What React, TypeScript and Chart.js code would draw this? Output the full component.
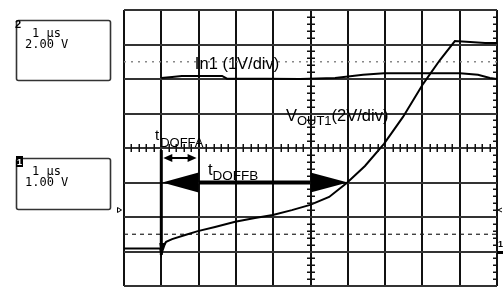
import React, { useEffect, useRef } from "react";
import { Chart, registerables } from "chart.js";

Chart.register(...registerables);

// ---- Scope geometry (divisions) ----
const timeDivs = 10; // horizontal divisions, 1 µs/div
const voltDivs = 8; // vertical divisions
const minorPerDiv = 5;

// ---- VOUT1 trace (time in div, level in div; 2V/div) ----
const voutTime = [0, 0.97, 1.0, 1.05, 1.13, 1.29, 1.64, 1.98, 2.44, 2.98, 3.51, 3.99, 4.5, 4.99, 5.5, 5.98, 6.46, 6.97, 7.48, 8.02, 8.47, 8.87, 9.28, 9.68, 10];
const voutLevel = [1.09, 1.09, 0.93, 1.16, 1.28, 1.36, 1.48, 1.59, 1.71, 1.86, 1.97, 2.06, 2.2, 2.35, 2.58, 2.99, 3.48, 4.12, 4.9, 5.86, 6.55, 7.1, 7.07, 7.04, 7.04];

// ---- In1 trace (1V/div) ----
const in1Time = [1.0, 1.29, 1.55, 2.63, 2.76, 3.83, 4.72, 5.66, 6.41, 6.97, 8.47, 9.01, 9.49, 9.81, 10];
const in1Level = [6.03, 6.06, 6.09, 6.09, 6.01, 6.01, 6.0, 6.03, 6.12, 6.17, 6.17, 6.17, 6.12, 6.03, 6.0];

// ---- Reference level markers ----
const refLevels = [6.5, 1.5];

// ---- Timing markers (div) ----
const tTrigger = 1;
const tDoffaEnd = 2;
const tDoffbEnd = 6;

// ---- Texts ----
const in1Label = "In1 (1V/div)";
const voutMain = "V";
const voutSub = "OUT1";
const voutTail = "(2V/div)";
const tLabel = "t";
const doffaSub = "DOFFA";
const doffbSub = "DOFFB";
const ch2Box = ["1 µs", "2.00 V"];
const ch1Box = ["1 µs", "1.00 V"];

const SANS = '"Liberation Sans", Arial, Helvetica, sans-serif';
const MONO = '"DejaVu Sans Mono", "Liberation Mono", monospace';

const toPts = (xs: number[], ys: number[]) => xs.map((x, i) => ({ x, y: ys[i] }));

const overlay = {
  id: "scopeOverlay",
  afterDatasetsDraw(chart: any) {
    const { ctx, scales } = chart;
    const xs = scales.x;
    const ys = scales.y;
    const X = (v: number) => xs.getPixelForValue(v);
    const Y = (v: number) => ys.getPixelForValue(v);
    ctx.save();

    // minor ticks on the centre axes and the right border
    ctx.strokeStyle = "#111";
    ctx.lineWidth = 1.5;
    const cy = Math.round(Y(voltDivs / 2));
    const cx = Math.round(X(timeDivs / 2));
    const right = Math.round(X(timeDivs));
    ctx.beginPath();
    for (let i = 0; i <= timeDivs * minorPerDiv; i++) {
      if (i % minorPerDiv === 0) continue;
      const px = Math.round(X(i / minorPerDiv)) + 0.25;
      ctx.moveTo(px, cy - 4);
      ctx.lineTo(px, cy + 4);
    }
    for (let j = 0; j <= voltDivs * minorPerDiv; j++) {
      if (j % minorPerDiv === 0) continue;
      const py = Math.round(Y(j / minorPerDiv)) + 0.25;
      ctx.moveTo(cx - 4, py);
      ctx.lineTo(cx + 4, py);
      ctx.moveTo(right - 4, py);
      ctx.lineTo(right, py);
    }
    ctx.stroke();

    // trigger marker (thick vertical)
    ctx.strokeStyle = "#000";
    ctx.lineWidth = 3;
    ctx.beginPath();
    ctx.moveTo(X(tTrigger), Y(3.94));
    ctx.lineTo(X(tTrigger), Y(0.9));
    ctx.stroke();
    ctx.fillStyle = "#000";
    ctx.beginPath();
    ctx.moveTo(X(tTrigger) - 2, Y(1.25));
    ctx.lineTo(X(tTrigger) + 5, Y(1.25));
    ctx.lineTo(X(tTrigger), Y(0.85));
    ctx.closePath();
    ctx.fill();

    // tDOFFA double arrow
    const ya = Math.round(Y(3.71));
    const xa0 = X(tTrigger) + 2;
    const xa1 = X(tDoffaEnd) - 2;
    ctx.lineWidth = 2;
    ctx.beginPath();
    ctx.moveTo(xa0 + 6, ya);
    ctx.lineTo(xa1 - 6, ya);
    ctx.stroke();
    ctx.beginPath();
    ctx.moveTo(xa0, ya);
    ctx.lineTo(xa0 + 9, ya - 4);
    ctx.lineTo(xa0 + 9, ya + 4);
    ctx.closePath();
    ctx.moveTo(xa1, ya);
    ctx.lineTo(xa1 - 9, ya - 4);
    ctx.lineTo(xa1 - 9, ya + 4);
    ctx.closePath();
    ctx.fill();

    // tDOFFB arrow
    const yb = Y(3.0);
    ctx.lineWidth = 4;
    ctx.beginPath();
    ctx.moveTo(X(tTrigger + 1), yb);
    ctx.lineTo(X(tDoffbEnd - 1), yb);
    ctx.stroke();
    ctx.beginPath();
    ctx.moveTo(X(tTrigger) + 1, yb);
    ctx.lineTo(X(tTrigger + 1), yb - 10);
    ctx.lineTo(X(tTrigger + 1), yb + 10);
    ctx.closePath();
    ctx.moveTo(X(tDoffbEnd), yb);
    ctx.lineTo(X(tDoffbEnd - 1), yb - 10);
    ctx.lineTo(X(tDoffbEnd - 1), yb + 10);
    ctx.closePath();
    ctx.fill();

    // labels
    ctx.fillStyle = "#000";
    ctx.textBaseline = "alphabetic";
    ctx.textAlign = "left";
    ctx.font = `16.5px ${SANS}`;
    ctx.fillText(in1Label, X(1.9), Y(6.29));

    let vx = X(4.34);
    const vy = Y(4.78);
    ctx.font = `16.5px ${SANS}`;
    ctx.fillText(voutMain, vx, vy);
    vx += ctx.measureText(voutMain).width;
    ctx.font = `13px ${SANS}`;
    ctx.fillText(voutSub, vx, vy + 4);
    vx += ctx.measureText(voutSub).width;
    ctx.font = `16.5px ${SANS}`;
    ctx.fillText(voutTail, vx, vy);

    let ax = X(0.83);
    const ay = Y(4.23);
    ctx.font = `15px ${SANS}`;
    ctx.fillText(tLabel, ax, ay);
    ax += ctx.measureText(tLabel).width + 1;
    ctx.font = `13px ${SANS}`;
    ctx.fillText(doffaSub, ax, ay + 7);

    let bx = X(2.25);
    const by = Y(3.22);
    ctx.font = `16.5px ${SANS}`;
    ctx.fillText(tLabel, bx, by);
    bx += ctx.measureText(tLabel).width;
    ctx.font = `13.5px ${SANS}`;
    ctx.fillText(doffbSub, bx, by + 5);

    ctx.restore();
  },
  afterDraw(chart: any) {
    const { ctx, chartArea, scales } = chart;
    const ys = scales.y;
    ctx.save();
    const drawBox = (top: number, h: number, lines: string[], marker: string, inverse: boolean) => {
      ctx.strokeStyle = "#333";
      ctx.lineWidth = 1.6;
      ctx.beginPath();
      ctx.roundRect(16.5, top + 0.5, 94, h, 2);
      ctx.stroke();
      ctx.font = `12px ${MONO}`;
      ctx.fillStyle = "#000";
      ctx.fillText(lines[0], 32, top + 17);
      ctx.fillText(lines[1], 25, top + 28);
      if (inverse) {
        ctx.fillStyle = "#000";
        ctx.fillRect(16, top - 2, 7, 11);
        ctx.fillStyle = "#fff";
        ctx.font = `bold 9px ${SANS}`;
        ctx.fillText(marker, 17, top + 7);
      } else {
        ctx.fillStyle = "#000";
        ctx.font = `bold 11px ${SANS}`;
        ctx.fillText(marker, 15, top + 8);
      }
    };
    ctx.textBaseline = "alphabetic";
    drawBox(20, 60, ch2Box, "2", false);
    drawBox(158, 51, ch1Box, "1", true);

    // ground / channel markers at the graticule edges
    const gy = Math.round(ys.getPixelForValue(2.2));
    ctx.strokeStyle = "#000";
    ctx.lineWidth = 1;
    ctx.beginPath();
    ctx.moveTo(117.5, gy - 2.5);
    ctx.lineTo(121.5, gy);
    ctx.lineTo(117.5, gy + 2.5);
    ctx.closePath();
    ctx.stroke();
    const r = chartArea.right;
    ctx.beginPath();
    ctx.moveTo(r + 5, gy - 2);
    ctx.lineTo(r + 1, gy);
    ctx.lineTo(r + 5, gy + 2);
    ctx.stroke();
    ctx.fillStyle = "#000";
    ctx.font = `bold 9px ${SANS}`;
    ctx.fillText("1", r + 1, ys.getPixelForValue(1.14));
    ctx.fillRect(r, Math.round(ys.getPixelForValue(1.02)), 6, 3);
    ctx.restore();
  },
};

export default function App() {
  const ref = useRef<HTMLCanvasElement | null>(null);

  useEffect(() => {
    if (!ref.current) return;
    const chart = new Chart(ref.current, {
      type: "scatter",
      data: {
        datasets: [
          {
            label: "VOUT1",
            data: toPts(voutTime, voutLevel),
            showLine: true,
            borderColor: "#000",
            borderWidth: 2,
            pointRadius: 0,
            tension: 0,
          },
          {
            label: "In1",
            data: toPts(in1Time, in1Level),
            showLine: true,
            borderColor: "#000",
            borderWidth: 2,
            pointRadius: 0,
            tension: 0,
          },
          {
            label: "ref2",
            data: [
              { x: 0, y: refLevels[0] },
              { x: timeDivs, y: refLevels[0] },
            ],
            showLine: true,
            borderColor: "#888",
            borderWidth: 1.5,
            borderDash: [2, 5],
            pointRadius: 0,
          },
          {
            label: "ref1",
            data: [
              { x: 0, y: refLevels[1] },
              { x: timeDivs, y: refLevels[1] },
            ],
            showLine: true,
            borderColor: "#222",
            borderWidth: 1.2,
            borderDash: [4, 4],
            pointRadius: 0,
          },
        ],
      },
      options: {
        responsive: false,
        animation: false,
        events: [],
        layout: { padding: { left: 124, top: 10, right: 6, bottom: 2 } },
        plugins: { legend: { display: false }, tooltip: { enabled: false } },
        scales: {
          x: {
            type: "linear",
            min: 0,
            max: timeDivs,
            ticks: { display: false, stepSize: 1 },
            grid: { color: "#111", lineWidth: 2, drawTicks: false },
            border: { display: false },
            afterFit: (s: any) => {
              s.height = 0;
            },
          },
          y: {
            type: "linear",
            min: 0,
            max: voltDivs,
            ticks: { display: false, stepSize: 1 },
            grid: { color: "#333", lineWidth: 2, drawTicks: false },
            border: { display: false },
            afterFit: (s: any) => {
              s.width = 0;
            },
          },
        },
      },
      plugins: [overlay],
    });
    return () => chart.destroy();
  }, []);

  return (
    <div style={{ position: "absolute", left: 0, top: 0, width: 503, height: 288, background: "#fff" }}>
      <canvas ref={ref} width={503} height={288} style={{ display: "block" }} />
    </div>
  );
}
